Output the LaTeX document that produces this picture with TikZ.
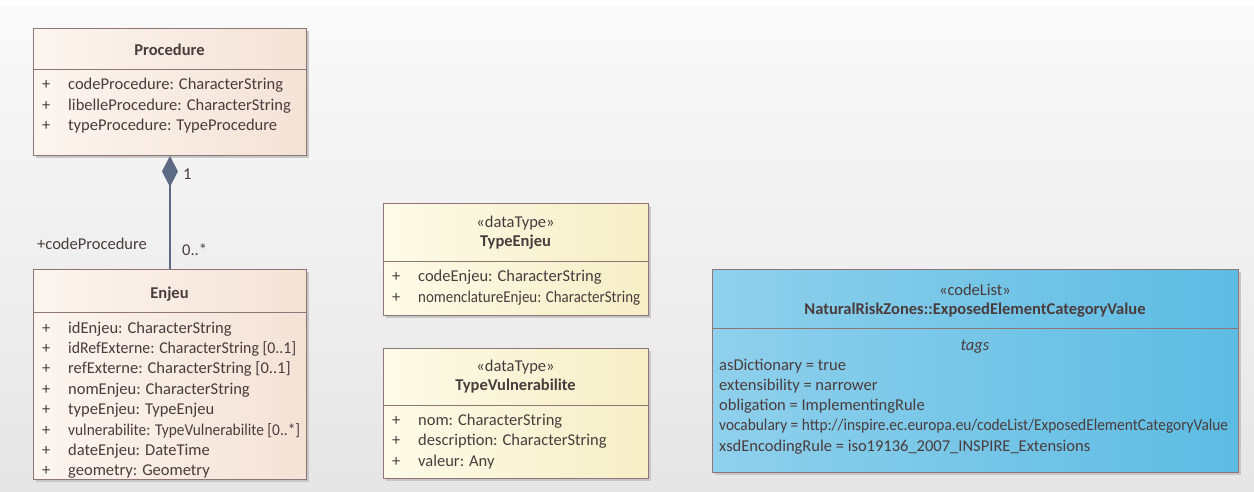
\documentclass[tikz,border=0pt]{standalone}
\usepackage{fontspec}
\usepackage{graphicx}
\setmainfont{Carlito}
\usetikzlibrary{arrows.meta,shadows}

\definecolor{umltext}{HTML}{4A3C3C}
\definecolor{boxline}{HTML}{8E7676}
\definecolor{linkline}{HTML}{5C6A84}
\definecolor{PeachL}{HTML}{FCF5EF}
\definecolor{PeachR}{HTML}{F4E2D6}
\definecolor{CreamL}{HTML}{FDFBE8}
\definecolor{CreamR}{HTML}{F6EEC6}
\definecolor{SkyL}{HTML}{8FD0EC}
\definecolor{SkyR}{HTML}{5DBCE3}

\tikzset{
  classbox/.style={draw=boxline, line width=0.9pt, anchor=north west, inner sep=0pt,
    drop shadow={shadow xshift=3pt, shadow yshift=-3pt, fill=black!22, opacity=1}},
  peach/.style={left color=PeachL, right color=PeachR},
  cream/.style={left color=CreamL, right color=CreamR},
  sky/.style={left color=SkyL, right color=SkyR},
  rowtext/.style={anchor=base west, inner sep=0pt, text=umltext,
    font=\fontsize{16.5}{20}\selectfont},
  headtext/.style={anchor=base, inner sep=0pt, text=umltext,
    font=\fontsize{16.5}{20}\selectfont},
}

\newcommand{\drawclassbox}[7]{% Parameters: node name, fill style, left, top, width, height, divider
  \node[classbox, #2, minimum width=#5pt, minimum height=#6pt] (#1) at (#3,#4) {};
  \draw[boxline, line width=0.9pt] (#3,#7) -- ++(#5,0);
}
\newcommand{\drawattr}[4]{% Parameters: node name, left, baseline, text
  \node[rowtext] (#1-plus) at (#2,#3) {+};
  \node[rowtext] (#1) at (#2+26,#3) {#4};
}
\newcommand{\fitwidth}[2]{\resizebox{#1}{\height}{#2}}% Parameters: width, text

\begin{document}
\begin{tikzpicture}[x=1pt,y=-1pt]
  \useasboundingbox (0,0) rectangle (1254,492);
  \fill[white] (0,0) rectangle (1254,492);
  \shade[top color=black!2, bottom color=black!10] (0,7) rectangle (1254,492);

  % Procedure
  \drawclassbox{procedure}{peach}{33}{28}{273}{127}{69}
  \node[headtext] (procedure-name) at (169.5,56) {\textbf{Procedure}};
  \drawattr{procedure-a1}{42}{90}{codeProcedure: CharacterString}
  \drawattr{procedure-a2}{42}{110.5}{libelleProcedure: CharacterString}
  \drawattr{procedure-a3}{42}{131}{typeProcedure: TypeProcedure}

  % Enjeu
  \drawclassbox{enjeu}{peach}{33}{269}{273}{210}{312}
  \node[headtext] (enjeu-name) at (169.5,298) {\textbf{Enjeu}};
  \drawattr{enjeu-a1}{42}{333}{idEnjeu: CharacterString}
  \drawattr{enjeu-a2}{42}{353.4}{\fitwidth{228pt}{idRefExterne: CharacterString [0..1]}}
  \drawattr{enjeu-a3}{42}{373.8}{refExterne: CharacterString [0..1]}
  \drawattr{enjeu-a4}{42}{394.2}{nomEnjeu: CharacterString}
  \drawattr{enjeu-a5}{42}{414.6}{typeEnjeu: TypeEnjeu}
  \drawattr{enjeu-a6}{42}{435}{\fitwidth{232pt}{vulnerabilite: TypeVulnerabilite [0..*]}}
  \drawattr{enjeu-a7}{42}{455.4}{dateEnjeu: DateTime}
  \drawattr{enjeu-a8}{42}{475.8}{geometry: Geometry}

  % composition
  \draw[linkline, line width=1.4pt, {Diamond[length=31pt, width=16pt]}-] (procedure.south) -- (enjeu.north);
  \node[rowtext] (end-one) at (183,180) {1};
  \node[rowtext] (end-role) at (37,249) {+codeProcedure};
  \node[rowtext] (end-many) at (182,255) {0..*};

  % TypeEnjeu
  \drawclassbox{typeenjeu}{cream}{383}{203}{265}{112}{261}
  \node[headtext] (typeenjeu-st) at (515.5,227) {«dataType»};
  \node[headtext] (typeenjeu-name) at (515.5,247) {\textbf{TypeEnjeu}};
  \drawattr{typeenjeu-a1}{392}{281.5}{codeEnjeu: CharacterString}
  \drawattr{typeenjeu-a2}{392}{302}{\fitwidth{222pt}{nomenclatureEnjeu: CharacterString}}

  % TypeVulnerabilite
  \drawclassbox{typevuln}{cream}{383}{348}{265}{130}{405}
  \node[headtext] (typevuln-st) at (515.5,371) {«dataType»};
  \node[headtext] (typevuln-name) at (515.5,390) {\textbf{TypeVulnerabilite}};
  \drawattr{typevuln-a1}{392}{425}{nom: CharacterString}
  \drawattr{typevuln-a2}{392}{445}{description: CharacterString}
  \drawattr{typevuln-a3}{392}{466}{valeur: Any}

  % codeList
  \drawclassbox{exposed}{sky}{712}{269}{526}{203}{328}
  \node[headtext] (exposed-st) at (975,295) {«codeList»};
  \node[headtext] (exposed-name) at (975,314) {\textbf{NaturalRiskZones::ExposedElementCategoryValue}};
  \node[headtext] (exposed-tags) at (975,350) {\textit{tags}};
  \node[rowtext] (exposed-t1) at (719,370) {asDictionary = true};
  \node[rowtext] (exposed-t2) at (719,390) {extensibility = narrower};
  \node[rowtext] (exposed-t3) at (719,410) {obligation = ImplementingRule};
  \node[rowtext] (exposed-t4) at (719,430.5) {\fitwidth{509pt}{vocabulary = http://inspire.ec.europa.eu/codeList/ExposedElementCategoryValue}};
  \node[rowtext] (exposed-t5) at (719,451) {xsdEncodingRule = iso19136\_2007\_INSPIRE\_Extensions};
\end{tikzpicture}
\end{document}
